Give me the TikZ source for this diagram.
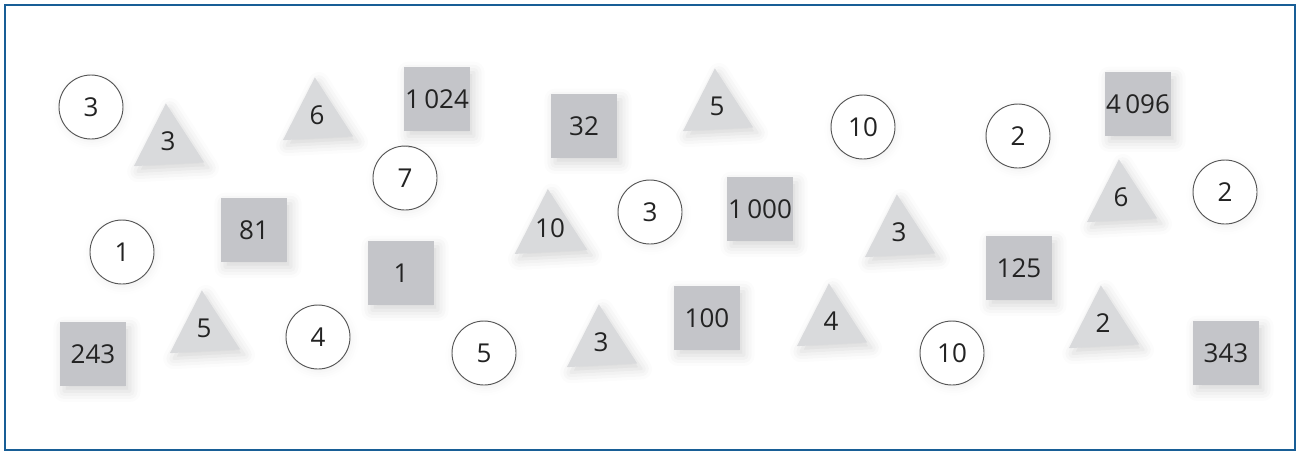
\documentclass[tikz,border=0pt]{standalone}
\usepackage{fontspec}
\setmainfont{Open Sans}
\usetikzlibrary{shapes.geometric, shadows.blur}

\definecolor{frameblue}{RGB}{24,94,150}
\definecolor{sqgray}{RGB}{196,197,201}
\definecolor{trigray}{RGB}{217,218,220}
\definecolor{rimgray}{RGB}{85,85,85}
\definecolor{numtext}{RGB}{35,35,35}

\begin{document}
\begin{tikzpicture}[
    x=0.75pt, y=-0.75pt,
    every node/.style={font=\fontsize{19.5}{21}\selectfont, text=numtext, inner sep=0pt},
    numcirc/.style={circle, draw=rimgray, line width=0.7pt, fill=white, minimum size=48pt,
        blur shadow={shadow xshift=1pt, shadow yshift=-2pt, shadow opacity=6, shadow blur radius=6pt}},
    numsq/.style={rectangle, fill=sqgray, minimum width=49.5pt, minimum height=48pt,
        blur shadow={shadow xshift=3pt, shadow yshift=-4pt, shadow opacity=16, shadow blur radius=8pt}},
    numtri/.style={regular polygon, regular polygon sides=3, shape border rotate=3, fill=trigray,
        minimum size=61pt, text depth=4pt,
        blur shadow={shadow xshift=3pt, shadow yshift=-4pt, shadow opacity=16, shadow blur radius=8pt}}
]
\useasboundingbox (0,0) rectangle (1298,451);
\draw[frameblue, line width=2.1pt] (5,5) rectangle (1295,450);

% circles
\node[numcirc] (c1) at (91,107) {3};
\node[numcirc] (c2) at (122,252) {1};
\node[numcirc] (c3) at (405,178) {7};
\node[numcirc] (c4) at (318,337) {4};
\node[numcirc] (c5) at (484,353) {5};
\node[numcirc] (c6) at (650,212) {3};
\node[numcirc] (c7) at (863,127) {10};
\node[numcirc] (c8) at (1018,136) {2};
\node[numcirc] (c9) at (952,353) {10};
\node[numcirc] (c10) at (1225,192) {2};

% squares
\node[numsq] (s1) at (437,99) {1\,024};
\node[numsq] (s2) at (584,126) {32};
\node[numsq] (s3) at (254,230) {81};
\node[numsq] (s4) at (401,273) {1};
\node[numsq] (s5) at (760,209) {1\,000};
\node[numsq] (s6) at (707,318) {100};
\node[numsq] (s7) at (1019,268) {125};
\node[numsq] (s8) at (1138,104) {4\,096};
\node[numsq] (s9) at (93,354) {243};
\node[numsq] (s10) at (1226,353) {343};

% triangles
\node[numtri] (t1) at (168,144) {3};
\node[numtri] (t2) at (317,118) {6};
\node[numtri] (t3) at (717,109) {5};
\node[numtri] (t4) at (550,231) {10};
\node[numtri] (t5) at (899,235) {3};
\node[numtri] (t6) at (1121,200) {6};
\node[numtri] (t7) at (204,331) {5};
\node[numtri] (t8) at (601,345) {3};
\node[numtri] (t9) at (831,324) {4};
\node[numtri] (t10) at (1103,326) {2};
\end{tikzpicture}
\end{document}
